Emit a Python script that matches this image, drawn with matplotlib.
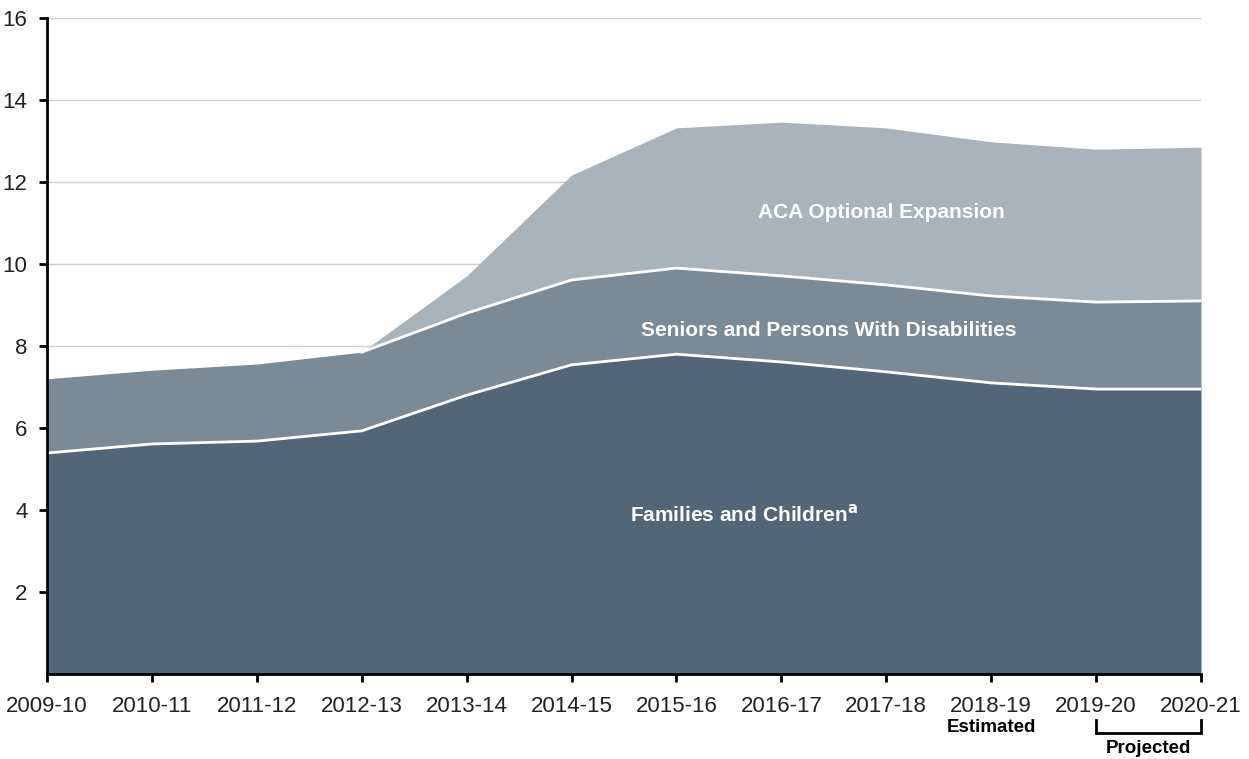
import matplotlib
matplotlib.use("Agg")
import matplotlib.pyplot as plt
import numpy as np

plt.rcParams['font.family'] = ['Liberation Sans', 'DejaVu Sans']

years = ["2009-10", "2010-11", "2011-12", "2012-13", "2013-14", "2014-15",
         "2015-16", "2016-17", "2017-18", "2018-19", "2019-20", "2020-21"]
families = [5.39, 5.61, 5.68, 5.93, 6.80, 7.54, 7.80, 7.61, 7.37, 7.10, 6.95, 6.95]
seniors = [1.81, 1.80, 1.88, 1.92, 2.00, 2.07, 2.10, 2.10, 2.12, 2.12, 2.12, 2.15]
aca = [0, 0, 0, 0, 0.91, 2.56, 3.42, 3.75, 3.83, 3.76, 3.73, 3.75]
yticks = [2, 4, 6, 8, 10, 12, 14, 16]

c_fam = "#526678"
c_sen = "#7b8a97"
c_aca = "#a9b3bc"

W, H = 1249, 759
fig = plt.figure(figsize=(W / 100, H / 100), dpi=100)
ax = fig.add_axes([47 / W, (H - 674) / H, (1201 - 47) / W, (674 - 18) / H])

x = np.arange(len(years))
f = np.array(families)
s = f + np.array(seniors)
a = s + np.array(aca)

for yv in yticks:
    ax.axhline(yv, color="#d0d0d0", lw=1, zorder=0)

ax.fill_between(x, 0, f, color=c_fam, lw=0, zorder=2)
ax.fill_between(x, f, s, color=c_sen, lw=0, zorder=2)
ax.fill_between(x, s, a, color=c_aca, lw=0, zorder=2)
ax.plot(x, f, color="white", lw=2, zorder=3)
ax.plot(x[3:], s[3:], color="white", lw=2, zorder=3)

ax.set_xlim(0, len(years) - 1)
ax.set_ylim(0, 16)
ax.set_xticks(x)
ax.set_xticklabels(years)
ax.set_yticks(yticks)
ax.tick_params(axis="both", labelsize=16, width=2, length=6, color="black",
               direction="out", labelcolor="#222222")
ax.tick_params(axis="x", pad=10)
ax.tick_params(axis="y", pad=8)
for sp in ["top", "right"]:
    ax.spines[sp].set_visible(False)
for sp in ["left", "bottom"]:
    ax.spines[sp].set_linewidth(2)
ax.spines["left"].set_zorder(5)
ax.spines["bottom"].set_zorder(5)

ax.text(7.95, 11.25, "ACA Optional Expansion", color="white", fontsize=15,
        fontweight="bold", ha="center", va="center", zorder=4)
ax.text(7.45, 8.38, "Seniors and Persons With Disabilities", color="white", fontsize=15,
        fontweight="bold", ha="center", va="center", zorder=4)
ax.text(6.64, 3.9, "Families and Children$^\\mathbf{a}$", color="white", fontsize=15,
        fontweight="bold", ha="center", va="center", zorder=4)

tr = ax.get_xaxis_transform()
ax.text(9, -0.081, "Estimated", transform=tr, ha="center", va="center",
        fontsize=13.5, fontweight="bold")
ax.plot([10, 10, 11, 11], [-0.070, -0.090, -0.090, -0.070], transform=tr,
        color="black", lw=2, clip_on=False, solid_joinstyle="miter")
ax.text(10.5, -0.114, "Projected", transform=tr, ha="center", va="center",
        fontsize=13.5, fontweight="bold")

fig.savefig("out.png", dpi=100)
